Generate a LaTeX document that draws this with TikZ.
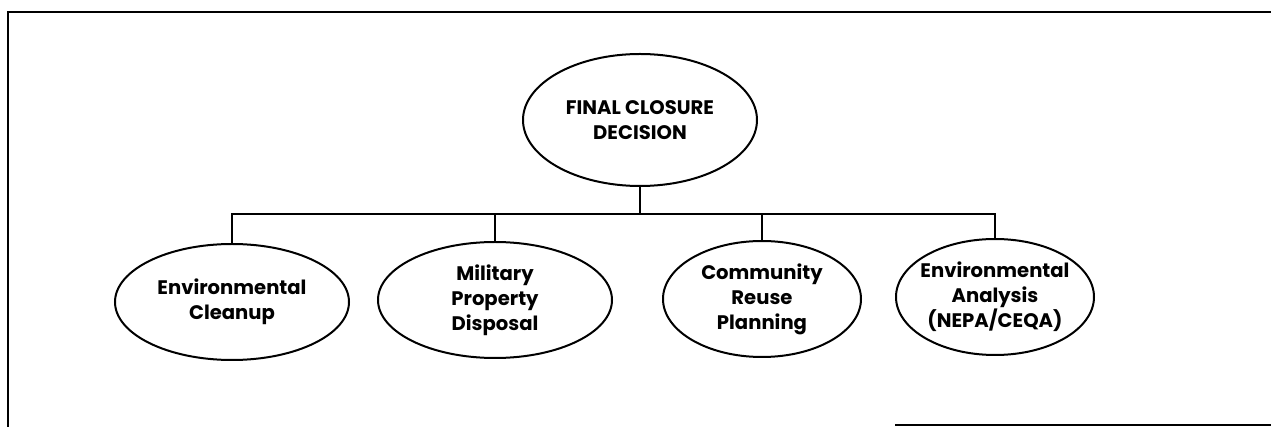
\documentclass[tikz,border=0pt]{standalone}
\usepackage{fontspec}
\setmainfont{Poppins}
\usetikzlibrary{shapes.geometric,positioning}
\tikzset{
  basic/.style  = {draw, ellipse, line width=1pt, inner sep=0pt, align=center,
                   font=\fontsize{9.8}{12.5}\selectfont\bfseries},
  root/.style   = {basic, minimum width=117pt, minimum height=66pt},
  wide/.style   = {basic, minimum width=117pt, minimum height=58pt},
  narrow/.style = {basic, minimum width=99pt, minimum height=58pt, inner xsep=-2.5pt}
}
\newcommand{\busy}{214}

\begin{document}
\begin{tikzpicture}[x=0.5pt, y=-0.5pt, line width=1pt]
\useasboundingbox (0,0) rectangle (1271,427);

% frame, open at the right and partly at the bottom
\draw (1271,12) -- (8,12) -- (8,427);
\draw (895,425) -- (1271,425);

% root of the chart
\node[root] (top) at (640,120) {FINAL CLOSURE\\DECISION};

% the second level
\node[wide]   (c1) at (232,302) {Environmental\\Cleanup};
\node[wide]   (c2) at (495,300) {Military\\Property\\Disposal};
\node[narrow] (c3) at (762,299) {Community\\Reuse\\Planning};
\node[narrow] (c4) at (995,297) {Environmental\\Analysis\\(NEPA/CEQA)};

% lines from the root to each of its children
\coordinate (bus) at (640,\busy);
\draw (top.south) -- (bus);
\foreach \value in {1,...,4}
  \draw (bus) -| (c\value.north);
\end{tikzpicture}
\end{document}
